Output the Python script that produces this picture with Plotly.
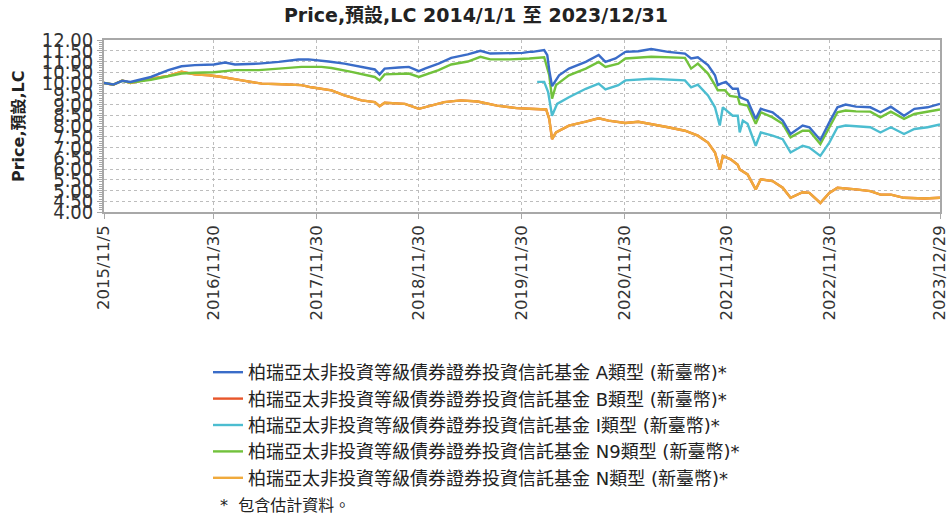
import plotly.graph_objects as go

# ---------------- data ----------------
x_tick_dates = ["2015-11-05", "2016-11-30", "2017-11-30", "2018-11-30", "2019-11-30",
                "2020-11-30", "2021-11-30", "2022-11-30", "2023-12-29"]
x_tick_labels = ["2015/11/5", "2016/11/30", "2017/11/30", "2018/11/30", "2019/11/30",
                 "2020/11/30", "2021/11/30", "2022/11/30", "2023/12/29"]
y_tick_values = [4.0, 4.5, 5.0, 5.5, 6.0, 6.5, 7.0, 7.5, 8.0, 8.5, 9.0, 9.5,
                 10.0, 10.5, 11.0, 11.5, 12.0]

fund = "柏瑞亞太非投資等級債券證券投資信託基金"
series_names = [fund + " A類型 (新臺幣)*", fund + " B類型 (新臺幣)*",
                fund + " I類型 (新臺幣)*", fund + " N9類型 (新臺幣)*",
                fund + " N類型 (新臺幣)*"]

A_dates = ["2015-11-05", "2015-12-08", "2016-01-09", "2016-02-07", "2016-04-20", "2016-06-21",
           "2016-08-07", "2016-09-23", "2016-11-30", "2017-01-09", "2017-02-13", "2017-05-09",
           "2017-07-19", "2017-09-27", "2017-11-02", "2017-12-18", "2018-01-12", "2018-03-10",
           "2018-05-10", "2018-06-26", "2018-07-13", "2018-07-31", "2018-09-19", "2018-10-25",
           "2018-11-30", "2018-12-21", "2019-02-08", "2019-03-25", "2019-05-23", "2019-07-07",
           "2019-08-11", "2019-10-19", "2019-12-04", "2019-12-28", "2020-01-08", "2020-02-19",
           "2020-03-01", "2020-03-08", "2020-03-18", "2020-04-12", "2020-05-17", "2020-07-16",
           "2020-08-31", "2020-09-24", "2020-10-30", "2020-12-04", "2021-01-19", "2021-03-06",
           "2021-05-05", "2021-07-04", "2021-07-26", "2021-08-19", "2021-09-24", "2021-10-19",
           "2021-10-29", "2021-11-09", "2021-11-27", "2021-12-21", "2022-01-08", "2022-01-15",
           "2022-01-26", "2022-02-12", "2022-03-13", "2022-03-31", "2022-05-12", "2022-06-17",
           "2022-07-15", "2022-08-27", "2022-09-20", "2022-10-29", "2022-11-30", "2022-12-29",
           "2023-01-27", "2023-03-05", "2023-04-25", "2023-05-31", "2023-07-07", "2023-08-23",
           "2023-09-29", "2023-11-15", "2023-12-29"]
A_values = [10.00, 9.93, 10.10, 10.05, 10.28, 10.60,
            10.78, 10.83, 10.86, 10.95, 10.86, 10.90,
            10.98, 11.09, 11.10, 11.05, 11.00, 10.90,
            10.75, 10.63, 10.40, 10.67, 10.72, 10.75,
            10.55, 10.67, 10.90, 11.17, 11.33, 11.50,
            11.37, 11.37, 11.40, 11.45, 11.45, 11.53,
            11.30, 10.60, 9.85, 10.36, 10.67, 10.98,
            11.30, 10.98, 11.14, 11.45, 11.48, 11.58,
            11.45, 11.37, 11.14, 11.20, 10.83, 10.36,
            9.90, 9.97, 10.05, 9.73, 9.73, 9.34,
            9.27, 9.19, 8.33, 8.80, 8.64, 8.25,
            7.63, 8.02, 7.94, 7.35, 8.17, 8.87,
            9.00, 8.90, 8.87, 8.64, 8.90, 8.48,
            8.80, 8.87, 9.03]

I_dates = ["2020-01-25", "2020-02-19", "2020-03-04", "2020-03-18", "2020-04-05", "2020-05-17",
           "2020-07-16", "2020-08-31", "2020-09-24", "2020-11-09", "2020-12-04", "2021-03-06",
           "2021-07-04", "2021-07-26", "2021-08-19", "2021-09-24", "2021-10-19", "2021-11-05",
           "2021-11-16", "2021-12-21", "2022-01-08", "2022-01-15", "2022-01-26", "2022-02-12",
           "2022-03-13", "2022-03-31", "2022-05-12", "2022-06-17", "2022-07-15", "2022-08-27",
           "2022-09-20", "2022-10-29", "2022-11-30", "2022-12-29", "2023-01-27", "2023-03-05",
           "2023-04-25", "2023-05-31", "2023-07-07", "2023-08-23", "2023-09-29", "2023-11-15",
           "2023-12-29"]
I_values = [10.05, 10.05, 9.58, 8.48, 9.03, 9.34,
            9.73, 9.97, 9.70, 9.90, 10.12, 10.20,
            10.12, 9.80, 9.92, 9.42, 8.87, 8.02,
            8.87, 8.48, 8.48, 7.70, 8.25, 8.10,
            7.08, 7.70, 7.55, 7.39, 6.77, 7.08,
            7.00, 6.61, 7.23, 7.94, 8.02, 7.98,
            7.94, 7.70, 7.94, 7.63, 7.86, 7.94,
            8.07]

N9_dates = ["2015-11-05", "2015-12-08", "2016-01-09", "2016-02-07", "2016-04-20", "2016-06-21",
            "2016-08-07", "2016-09-23", "2016-11-30", "2017-02-13", "2017-05-09", "2017-07-19",
            "2017-10-08", "2017-12-18", "2018-01-23", "2018-04-04", "2018-06-26", "2018-07-13",
            "2018-07-31", "2018-10-25", "2018-11-30", "2019-02-08", "2019-03-25", "2019-05-23",
            "2019-07-07", "2019-08-11", "2019-10-19", "2019-12-28", "2020-02-19", "2020-03-08",
            "2020-03-18", "2020-04-01", "2020-05-17", "2020-07-16", "2020-08-31", "2020-09-24",
            "2020-11-09", "2020-12-04", "2021-03-06", "2021-07-04", "2021-07-26", "2021-08-19",
            "2021-09-24", "2021-10-19", "2021-10-29", "2021-11-23", "2021-12-11", "2022-01-08",
            "2022-01-15", "2022-02-12", "2022-03-13", "2022-03-31", "2022-05-12", "2022-06-17",
            "2022-07-15", "2022-08-27", "2022-09-20", "2022-10-29", "2022-11-30", "2022-12-29",
            "2023-01-27", "2023-03-05", "2023-04-25", "2023-05-31", "2023-07-07", "2023-08-23",
            "2023-09-29", "2023-11-15", "2023-12-29"]
N9_values = [10.00, 9.93, 10.10, 10.02, 10.15, 10.33,
             10.44, 10.48, 10.50, 10.60, 10.60, 10.67,
             10.75, 10.75, 10.70, 10.52, 10.28, 10.12,
             10.40, 10.44, 10.28, 10.60, 10.86, 11.00,
             11.22, 11.10, 11.10, 11.14, 11.20, 10.36,
             9.27, 9.90, 10.36, 10.67, 10.98, 10.75,
             10.90, 11.14, 11.22, 11.17, 10.67, 10.90,
             10.44, 9.90, 9.66, 9.66, 9.40, 9.35,
             9.03, 8.95, 8.10, 8.64, 8.40, 8.10,
             7.47, 7.78, 7.78, 7.16, 7.94, 8.64,
             8.72, 8.68, 8.67, 8.40, 8.67, 8.33,
             8.56, 8.67, 8.77]

N_dates = ["2015-11-05", "2015-12-08", "2016-01-09", "2016-02-07", "2016-04-20", "2016-06-21",
           "2016-08-07", "2016-09-23", "2016-11-13", "2016-12-29", "2017-03-10", "2017-05-20",
           "2017-07-30", "2017-10-08", "2017-11-12", "2017-12-18", "2018-01-23", "2018-03-10",
           "2018-05-10", "2018-06-26", "2018-07-13", "2018-07-31", "2018-10-11", "2018-11-30",
           "2018-12-21", "2019-02-28", "2019-04-28", "2019-06-27", "2019-09-04", "2019-11-13",
           "2019-12-28", "2020-02-26", "2020-03-08", "2020-03-18", "2020-04-01", "2020-05-17",
           "2020-07-16", "2020-08-31", "2020-10-05", "2020-12-04", "2021-01-19", "2021-03-06",
           "2021-05-05", "2021-07-04", "2021-08-19", "2021-09-24", "2021-10-19", "2021-11-05",
           "2021-11-16", "2021-12-14", "2022-01-08", "2022-01-15", "2022-02-12", "2022-03-13",
           "2022-03-31", "2022-05-12", "2022-06-17", "2022-07-15", "2022-08-27", "2022-09-20",
           "2022-10-29", "2022-11-30", "2022-12-29", "2023-03-05", "2023-04-25", "2023-05-31",
           "2023-07-07", "2023-08-23", "2023-11-04", "2023-12-29"]
N_values = [10.00, 9.92, 10.12, 10.00, 10.20, 10.33,
            10.52, 10.40, 10.36, 10.28, 10.12, 9.97,
            9.94, 9.90, 9.80, 9.73, 9.66, 9.42,
            9.19, 9.11, 8.92, 9.08, 9.03, 8.80,
            8.87, 9.11, 9.19, 9.14, 8.95, 8.83,
            8.80, 8.77, 8.33, 7.39, 7.70, 8.02,
            8.20, 8.36, 8.25, 8.14, 8.20, 8.10,
            7.94, 7.78, 7.55, 7.23, 6.77, 5.98,
            6.61, 6.45, 6.20, 5.98, 5.75, 5.05,
            5.52, 5.44, 5.13, 4.66, 4.92, 4.89,
            4.42, 4.89, 5.13, 5.05, 4.97, 4.81,
            4.81, 4.66, 4.63, 4.66]

# B class is not visible in the picture (hidden under the N line)
B_dates = N_dates
B_values = N_values

# ---------------- styling ----------------
colors = {"A": "#3a6cc8", "B": "#e8562a", "I": "#4cbdd0", "N9": "#72c23c", "N": "#f0aa3c"}
FONT = "DejaVu Sans, Noto Sans CJK TC, sans-serif"
W, H = 952, 516

fig = go.Figure()
draw_order = [("B", B_dates, B_values, 1), ("N", N_dates, N_values, 4),
              ("I", I_dates, I_values, 2), ("N9", N9_dates, N9_values, 3),
              ("A", A_dates, A_values, 0)]
for key, xs, ys, idx in draw_order:
    fig.add_trace(go.Scatter(
        x=xs, y=ys, mode="lines", name=series_names[idx],
        line=dict(color=colors[key], width=2.4),
        legendrank=idx + 1,
    ))

fig.update_layout(
    width=W, height=H,
    margin=dict(l=104, r=12, t=40, b=304, autoexpand=False),
    paper_bgcolor="white", plot_bgcolor="white",
    font=dict(family=FONT, color="#333333"),
    title=dict(text="<b>Price,預設,LC 2014/1/1 至 2023/12/31</b>",
               x=0.5, xanchor="center", y=1 - 15 / H, yanchor="middle",
               font=dict(size=19, color="#222222", family=FONT)),
    showlegend=True,
    legend=dict(xref="container", yref="container",
                x=208 / W, xanchor="left", y=1 - 354 / H, yanchor="top",
                font=dict(size=18, color="#222222", family=FONT),
                bgcolor="rgba(0,0,0,0)", traceorder="normal"),
    xaxis=dict(
        type="date", range=[x_tick_dates[0], x_tick_dates[-1]],
        tickmode="array", tickvals=x_tick_dates, ticktext=x_tick_labels,
        tickangle=-90, tickfont=dict(size=16.5, color="#333333", family=FONT),
        showgrid=True, gridcolor="#bdbdbd", griddash="dot", gridwidth=1,
        showline=True, linecolor="#a8a8a8", linewidth=1.5, mirror=True,
        ticks="outside", ticklen=5, tickcolor="#a8a8a8", zeroline=False,
    ),
    yaxis=dict(
        range=[4, 12], tickmode="array", tickvals=y_tick_values, tickformat=".2f",
        tickfont=dict(size=20, color="#333333",
                      family="Liberation Sans Narrow, DejaVu Sans Condensed, Arial Narrow, sans-serif"),
        showgrid=True, gridcolor="#bdbdbd", griddash="dot", gridwidth=1,
        showline=True, linecolor="#a8a8a8", linewidth=1.5, mirror=True,
        ticks="outside", ticklen=5, tickcolor="#a8a8a8", zeroline=False,
        minor=dict(dtick=0.1, ticks="outside", ticklen=3, tickcolor="#a8a8a8", showgrid=False),
    ),
    annotations=[
        dict(text="<b>Price,預設,LC</b>", xref="paper", yref="paper",
             x=(18 - 104) / 836, y=0.5, textangle=-90, showarrow=False,
             xanchor="center", yanchor="middle",
             font=dict(size=16, color="#222222", family=FONT)),
        dict(text="*  包含估計資料。", xref="paper", yref="paper",
             x=(218 - 104) / 836, y=(212 - 505) / 172, showarrow=False,
             xanchor="left", yanchor="middle",
             font=dict(size=16, color="#222222", family=FONT)),
    ],
)

# the page's default 8px body margin would shift the figure; remove it
fig.write_html("out.html", config={"displayModeBar": False},
               post_script="document.body.style.margin='0';document.body.style.padding='0';")
